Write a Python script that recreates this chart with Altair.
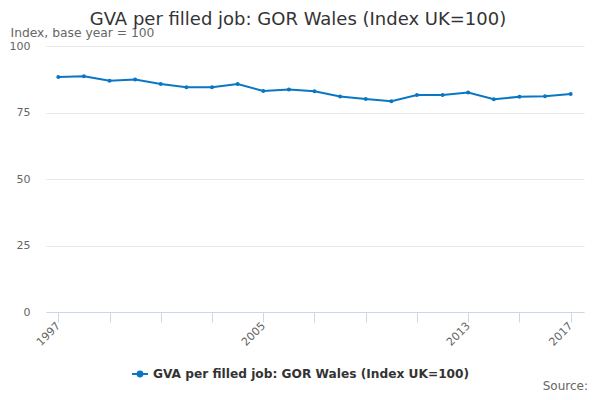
import altair as alt
import pandas as pd

years = list(range(1997, 2018))
values = [88.3, 88.6, 86.9, 87.4, 85.7, 84.5, 84.5, 85.7, 83.1, 83.6, 83.0,
          81.0, 80.1, 79.2, 81.6, 81.6, 82.5, 80.0, 80.9, 81.1, 82.0]
series_name = "GVA per filled job: GOR Wales (Index UK=100)"
title_text = "GVA per filled job: GOR Wales (Index UK=100)"
y_title = "Index, base year = 100"
x_tick_values = list(range(1997, 2018, 2))
x_labelled = [1997, 2005, 2013, 2017]
y_tick_values = [0, 25, 50, 75, 100]
source_text = ["Source:"]

df = pd.DataFrame({"year": years, "value": values, "series": series_name})
src = pd.DataFrame({"t": source_text})

FONT = "DejaVu Sans"
BLUE = "#0a77c4"

label_expr = "indexof([" + ",".join(str(v) for v in x_labelled) + "], datum.value) >= 0 ? format(datum.value, 'd') : ''"

x = alt.X(
    "year:Q",
    scale=alt.Scale(domain=[1996.52, 2017.52], nice=False, zero=False),
    axis=alt.Axis(
        values=x_tick_values, labelExpr=label_expr, title=None, grid=False,
        domainColor="#ccd6eb", tickColor="#ccd6eb", tickSize=10,
        labelAngle=-45, labelAlign="right", labelBaseline="middle",
        labelPadding=2, labelColor="#666666", labelFontSize=11, labelFont=FONT,
        labelOverlap=False,
    ),
)
y = alt.Y(
    "value:Q",
    scale=alt.Scale(domain=[0, 100], nice=False),
    axis=alt.Axis(
        values=y_tick_values, title=y_title, titleAngle=0, titleX=-36, titleY=-10,
        titleAlign="left", titleBaseline="alphabetic", titleColor="#666666",
        titleFontSize=12.3, titleFontWeight="normal", titleFont=FONT,
        domain=False, ticks=False, tickSize=0, labelPadding=16,
        labelColor="#666666", labelFontSize=11, labelFont=FONT,
        gridColor="#e6e6e6", grid=True,
    ),
)

color = alt.Color(
    "series:N",
    scale=alt.Scale(range=[BLUE]),
    legend=alt.Legend(
        title=None, orient="none", legendX=85, legendY=319, direction="horizontal",
        symbolType="M-1,0H1M-0.3,0A0.3,0.3,0,1,1,0.3,0A0.3,0.3,0,1,1,-0.3,0Z",
        symbolSize=256, symbolStrokeWidth=2, symbolFillColor=BLUE, symbolStrokeColor=BLUE,
        labelFont=FONT, labelFontSize=12.2, labelFontWeight="bold", labelColor="#333333",
        labelLimit=500, padding=0,
    ),
)

line = alt.Chart(df).mark_line(strokeWidth=2, point=alt.OverlayMarkDef(size=16, filled=True, color=BLUE)).encode(
    x=x, y=y, color=color
)

source = alt.Chart(src).mark_text(
    align="right", baseline="alphabetic", font=FONT, fontSize=12, color="#666666"
).encode(x=alt.value(542), y=alt.value(344), text="t:N")

chart = alt.layer(line, source).properties(
    width=538, height=266,
    title=alt.TitleParams(
        title_text, anchor="middle", dx=-17, dy=7, fontSize=18, font=FONT,
        fontWeight="normal", color="#333333", offset=4,
    ),
    autosize=alt.AutoSizeParams(type="none"),
    padding={"left": 38, "top": 38, "right": 8, "bottom": 80},
).configure(background="white").configure_view(stroke=None)

chart.save("out.html", embed_options={"renderer": "svg", "actions": False})
